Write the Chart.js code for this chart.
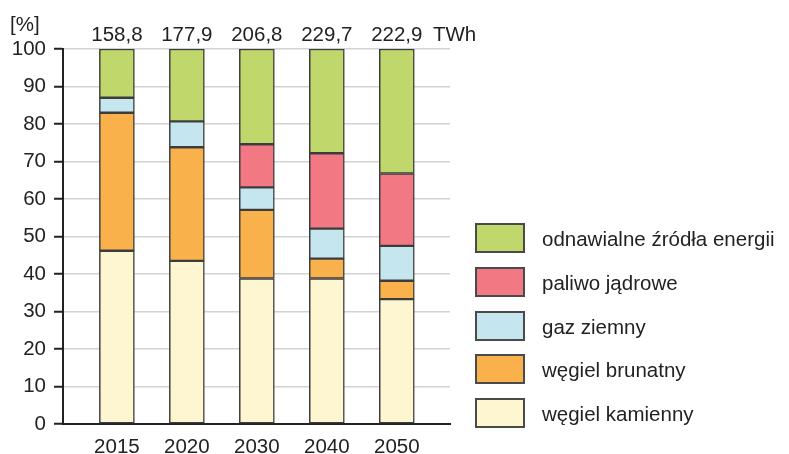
<!DOCTYPE html>
<html>
<head>
<meta charset="utf-8">
<script src="https://cdn.jsdelivr.net/npm/chart.js@4/dist/chart.umd.min.js"></script>
<style>
    body { margin: 0; background: #fff; font-family: "Liberation Sans", Arial, sans-serif; }
    #wrap { position: relative; width: 789px; height: 454px; }
    #legend { position: absolute; left: 475px; top: 223px; }
    .item { position: absolute; left: 0; height: 30px; white-space: nowrap; }
    .box { position: absolute; left: 0; top: 0; width: 46px; height: 26px; border: 2px solid #4a4a4a; }
    .txt { position: absolute; left: 67px; top: 1px; line-height: 30px; font-size: 20.5px; color: #222; }
</style>
</head>
<body>
<div id="wrap">
    <canvas id="myChart" width="789" height="454"></canvas>
    <div id="legend"></div>
</div>
<script>
// Years on the x axis
var years = ["2015", "2020", "2030", "2040", "2050"];
// Total production above each bar
var totals = ["158,8", "177,9", "206,8", "229,7", "222,9"];

// Share of each source in %
var wegielKamienny = [46.2, 43.5, 38.8, 38.8, 33.3];
var wegielBrunatny = [36.8, 30.3, 18.3, 5.3, 4.9];
var gazZiemny = [4.0, 6.9, 6.0, 8.0, 9.3];
var paliwoJadrowe = [null, null, 11.5, 20.1, 19.3];
var odnawialne = [13.0, 19.3, 25.4, 27.8, 33.2];

var yTicks = [0, 10, 20, 30, 40, 50, 60, 70, 80, 90, 100];

var FONT = "'Liberation Sans', Arial, sans-serif";

// Builds {x, y} points so the bars sit on a linear x axis
function points(values) {
    return values.map((v, i) => {
        return { x: i, y: v };
    });
}

var series = [
    { label: "węgiel kamienny", data: wegielKamienny, color: "#fdf6d0" },
    { label: "węgiel brunatny", data: wegielBrunatny, color: "#f9b24b" },
    { label: "gaz ziemny", data: gazZiemny, color: "#c6e6ef" },
    { label: "paliwo jądrowe", data: paliwoJadrowe, color: "#f27883" },
    { label: "odnawialne źródła energii", data: odnawialne, color: "#c0d86b" }
];

// Text above the plot: totals in TWh and the [%] unit
var topLabels = {
    id: "topLabels",
    afterDraw(chart) {
        var ctx = chart.ctx;
        var xs = chart.scales.x;
        ctx.save();
        ctx.fillStyle = "#222";
        ctx.font = "20.5px " + FONT;
        ctx.textBaseline = "middle";
        ctx.textAlign = "center";
        totals.forEach((t, i) => {
            ctx.fillText(t, xs.getPixelForValue(i), 35);
        });
        ctx.textAlign = "left";
        ctx.fillText("TWh", 433, 35);
        ctx.fillText("[%]", 10, 25);
        ctx.restore();
    }
};

var ctx = document.getElementById("myChart").getContext("2d");
var chart = new Chart(ctx, {
    type: "bar",
    data: {
        datasets: series.map(s => {
            return {
                label: s.label,
                data: points(s.data),
                backgroundColor: s.color,
                borderColor: "#3c3c3c",
                borderWidth: 1.5,
                borderSkipped: false,
                barThickness: 35
            };
        })
    },
    options: {
        responsive: false,
        animation: false,
        layout: { padding: { left: 0, top: 49, right: 339, bottom: 0 } },
        plugins: {
            legend: { display: false },
            tooltip: { enabled: false }
        },
        scales: {
            x: {
                type: "linear",
                stacked: true,
                offset: false,
                min: -0.77,
                max: 4.76,
                grid: { display: false },
                border: { display: true, color: "#222", width: 2 },
                ticks: {
                    stepSize: 1,
                    includeBounds: false,
                    autoSkip: false,
                    maxRotation: 0,
                    padding: 3,
                    color: "#222",
                    font: { family: FONT, size: 20.5 },
                    callback: v => years[v] || ""
                },
                afterFit: s => { s.height = 30; }
            },
            y: {
                stacked: true,
                min: 0,
                max: 100,
                grid: {
                    color: "#d2d2d2",
                    lineWidth: 1.5,
                    tickColor: "#222",
                    tickWidth: 2,
                    tickLength: 9
                },
                border: { display: true, color: "#222", width: 2 },
                afterBuildTicks: s => {
                    s.ticks = yTicks.map(v => ({ value: v }));
                },
                ticks: {
                    padding: 8,
                    color: "#222",
                    font: { family: FONT, size: 20.5 }
                },
                afterFit: s => { s.width = 63; }
            }
        }
    },
    plugins: [topLabels]
});

// Legend drawn from the same series list, top to bottom in reverse order
var legend = document.getElementById("legend");
series.slice().reverse().forEach((s, i) => {
    var item = document.createElement("div");
    item.className = "item";
    item.style.top = (i * 43.8) + "px";
    item.innerHTML = '<div class="box" style="background:' + s.color + '"></div><div class="txt">' + s.label + '</div>';
    legend.appendChild(item);
});
</script>
</body>
</html>
